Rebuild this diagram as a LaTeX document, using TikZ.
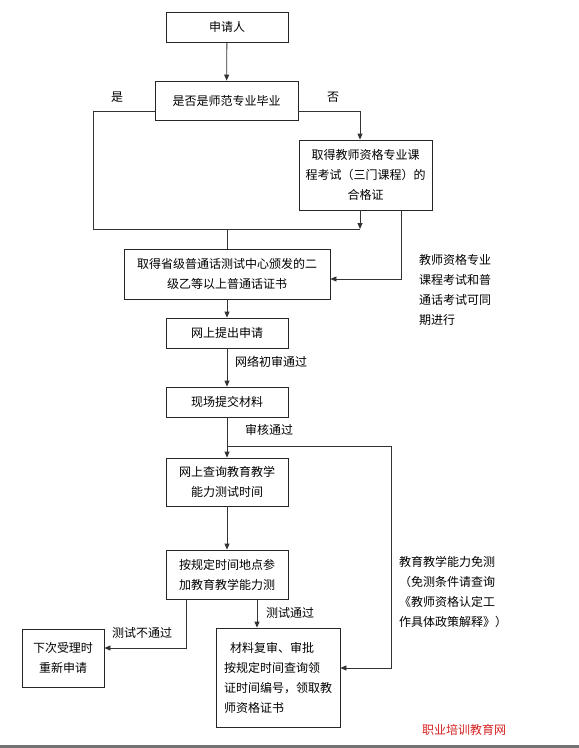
\documentclass[tikz,border=0pt]{standalone}
\usepackage{fontspec}
\newfontfamily\cjk{Noto Sans CJK SC}
\usetikzlibrary{arrows.meta}
\definecolor{markred}{RGB}{214,32,32}

\begin{document}
\begin{tikzpicture}[x=1pt,y=-1pt,
  font=\cjk\fontsize{12}{20}\selectfont,
  flowbox/.style={draw=black!85, line width=0.8pt, align=center, inner sep=2pt},
  note/.style={align=left, inner sep=0pt},
  flow/.style={draw=black!80, line width=0.8pt},
  >={Triangle[length=6pt,width=5pt]}]
 \useasboundingbox (0,0) rectangle (579,748);
\fill[black!55] (0,745) rectangle (579,748);

\node[flowbox, minimum width=122, minimum height=30] (apply) at (227,27) {申请人};
\node[flowbox, minimum width=143, minimum height=39] (normal) at (226.5,100.5) {是否是师范专业毕业};
\node[flowbox, minimum width=133, minimum height=70] (course) at (365.5,175) {取得教师资格专业课\\程考试（三门课程）的\\合格证};
\node[flowbox, minimum width=206, minimum height=50] (mandarin) at (227,274) {取得省级普通话测试中心颁发的二\\级乙等以上普通话证书};
\node[flowbox, minimum width=122, minimum height=30] (online) at (227,333) {网上提出申请};
\node[flowbox, minimum width=122, minimum height=30] (submit) at (227,402) {现场提交材料};
\node[flowbox, minimum width=122, minimum height=48] (query) at (227,482) {网上查询教育教学\\能力测试时间};
\node[flowbox, minimum width=122, minimum height=49] (test) at (227,574.5) {按规定时间地点参\\加教育教学能力测};
\node[flowbox, minimum width=82, minimum height=58] (retry) at (63,658) {下次受理时\\重新申请};
\node[flowbox, minimum width=124, minimum height=99, align=left] (final) at (278,677.5) {\hspace*{0.5em}材料复审、审批\\按规定时间查询领\\证时间编号，领取教\\师资格证书};

\node (yes) at (117,97) {是};
\node (no) at (333,97) {否};
\node[note, anchor=north west] (together) at (419,254) {教师资格专业\\课程考试和普\\通话考试可同\\期进行};
\node[note, anchor=west] (pass1) at (235,362) {网络初审通过};
\node[note, anchor=west] (pass2) at (245,430) {审核通过};
\node[note, anchor=west] (pass3) at (266,613) {测试通过};
\node[note, anchor=west] (fail) at (112,633) {测试不通过};
\node[note, anchor=north west] (exemptnote) at (399,556) {教育教学能力免测\\（免测条件请查询\\《教师资格认定工\\作具体政策解释》）};
\node[note, text=markred] (mark) at (464,730) {职业培训教育网};

\coordinate (join) at (360,229);
\coordinate (yesturn) at (93,229);
\coordinate (exempt) at (391,446);

\draw[flow,->] (apply) -- (normal);
\draw[flow] ([yshift=-10.5pt]normal.west) -| (yesturn) -- (join);
\draw[flow,->] ([yshift=-10.5pt]normal.east) -| (course.north -| join);
\draw[flow,->] (course.south -| join) -- (join);
\draw[flow] (mandarin.north |- join) -- (mandarin.north);
\draw[flow,->] ([xshift=35.5pt]course.south) |- ([yshift=-5pt]mandarin.east);
\draw[flow,->] (mandarin) -- (online);
\draw[flow,->] (online) -- (submit);
\draw[flow,->] (submit) -- (query);
\draw[flow,->] (submit.south |- exempt) -- (exempt) |- ([yshift=9.5pt]final.east);
\draw[flow,->] (query) -- (test);
\draw[flow,->] ([xshift=-41pt]test.south) |- ([yshift=10pt]retry.east);
\draw[flow,->] ([xshift=30pt]test.south) -- ([xshift=30pt]test.south |- final.north);

\end{tikzpicture}
\end{document}
